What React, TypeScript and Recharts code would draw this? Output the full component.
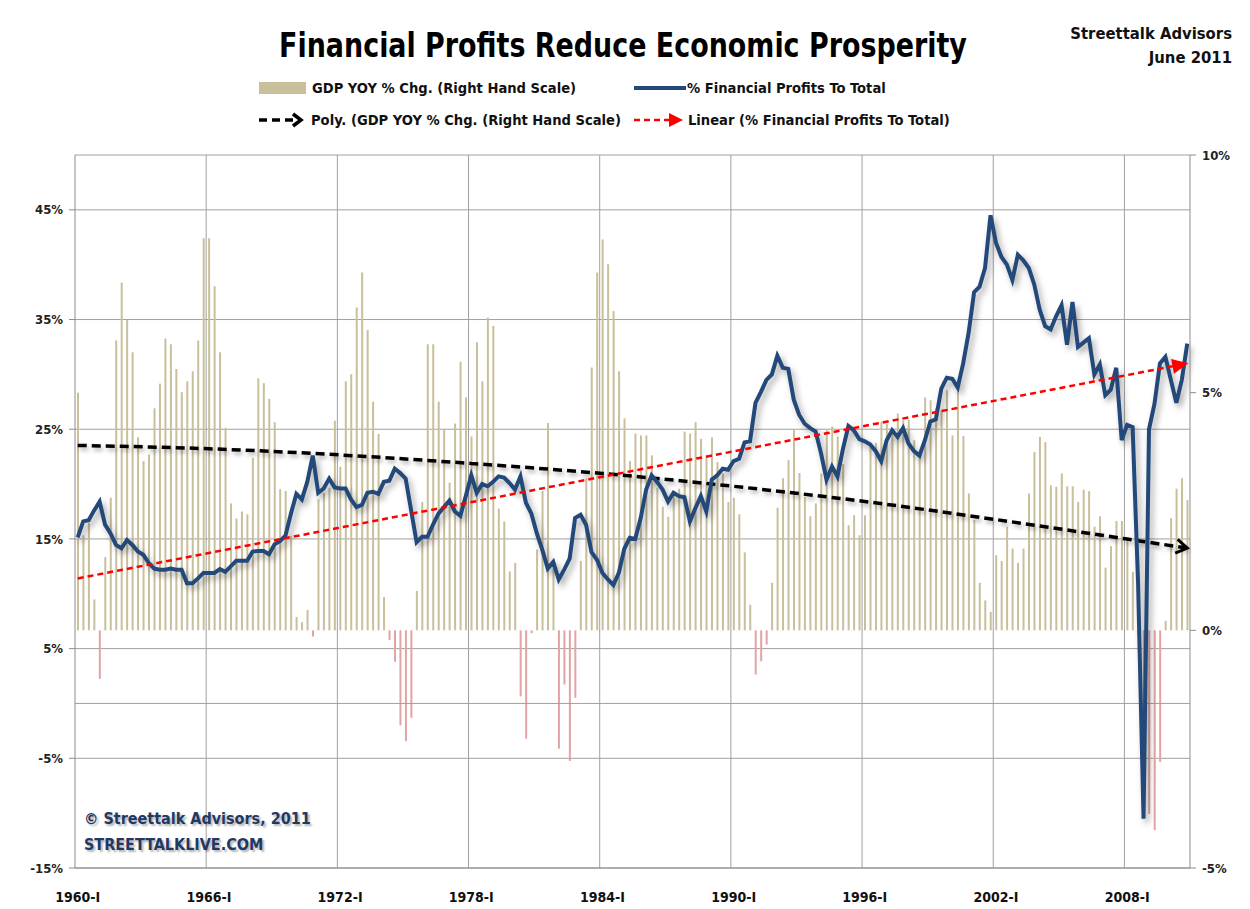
import React from 'react';
import { ComposedChart, Bar, Line, XAxis, YAxis, CartesianGrid, ReferenceLine, Cell } from 'recharts';

// ---------- data ----------
const FIRST_YEAR = 1960;
const QUARTER_NAMES = ['I', 'II', 'III', 'IV'];

// Real GDP year-over-year % change (right hand scale), quarterly 1960-I .. 2010-IV
const gdpYoy = [
  5.0, 2.0, 2.26, 0.65, -1.02, 1.54, 2.79, 6.1, 7.32, 6.53, 5.85, 4.06, 3.56, 3.7, 4.67, 5.19,
  6.14, 6.02, 5.5, 5.01, 5.24, 5.45, 6.1, 8.25, 8.25, 7.24, 5.85, 4.26, 2.67, 2.35, 2.5, 2.44,
  3.63, 5.3, 5.2, 4.87, 4.38, 2.97, 2.93, 1.99, 0.28, 0.17, 0.43, -0.13, 2.76, 2.89, 2.99, 4.41,
  3.44, 5.24, 5.39, 6.79, 7.53, 6.32, 4.81, 4.13, 0.7, -0.2, -0.66, -2.0, -2.33, -1.84, 0.83, 2.7,
  6.02, 6.02, 4.81, 4.22, 3.11, 4.35, 5.65, 4.9, 4.08, 6.06, 5.24, 6.58, 6.4, 2.56, 2.29, 1.24,
  1.42, -1.39, -2.28, -0.06, 1.7, 2.93, 4.36, 1.3, -2.49, -1.14, -2.75, -1.42, 1.46, 3.2, 5.53, 7.53,
  8.22, 7.7, 6.72, 5.45, 4.46, 3.56, 4.14, 4.1, 4.1, 3.68, 3.0, 2.6, 2.39, 2.88, 2.98, 4.18,
  4.14, 4.38, 4.03, 3.68, 4.06, 3.54, 3.3, 2.7, 2.79, 2.44, 1.64, 0.54, -0.93, -0.65, -0.3, 1.0,
  2.58, 3.2, 3.58, 4.22, 3.31, 2.81, 2.4, 2.67, 3.3, 4.21, 4.29, 4.08, 3.5, 2.21, 2.42, 2.0,
  2.42, 3.95, 3.94, 4.39, 4.35, 4.25, 4.56, 4.42, 4.43, 4.0, 3.72, 4.9, 4.84, 4.67, 4.63, 5.05,
  4.1, 5.05, 4.09, 2.88, 2.32, 1.0, 0.63, 0.39, 1.58, 1.46, 2.18, 1.72, 1.42, 1.72, 2.88, 3.75,
  4.07, 3.96, 3.05, 3.02, 3.3, 3.03, 3.03, 2.7, 2.96, 2.93, 2.18, 2.4, 1.32, 1.77, 2.3, 2.3,
  1.9, 1.23, -0.1, -2.7, -3.86, -4.2, -2.77, 0.2, 2.36, 2.98, 3.2, 2.74,
];

// % financial profits to total (left hand scale), quarterly 1960-I .. 2010-IV
const finProfitShare = [
  15.15, 16.6, 16.7, 17.6, 18.4, 16.3, 15.5, 14.45, 14.15, 14.9, 14.45, 13.85, 13.55, 12.8, 12.3, 12.2,
  12.2, 12.3, 12.2, 12.2, 10.95, 10.95, 11.4, 11.9, 11.9, 11.9, 12.25, 12.0, 12.5, 13.0, 13.0, 13.0,
  13.85, 13.9, 13.9, 13.6, 14.5, 14.8, 15.3, 17.3, 19.1, 18.6, 20.2, 22.6, 19.2, 19.6, 20.5, 19.7,
  19.6, 19.6, 18.6, 17.9, 18.1, 19.2, 19.3, 19.1, 20.2, 20.3, 21.4, 21.0, 20.5, 17.6, 14.7, 15.2,
  15.2, 16.3, 17.3, 17.9, 18.5, 17.5, 17.1, 18.9, 20.8, 19.2, 20.0, 19.8, 20.2, 20.7, 20.6, 20.1,
  19.5, 20.7, 18.3, 17.3, 15.5, 14.0, 12.3, 12.9, 11.3, 12.2, 13.2, 16.9, 17.2, 16.3, 13.8, 13.1,
  11.9, 11.3, 10.8, 11.9, 14.1, 15.1, 15.0, 16.9, 19.5, 20.8, 20.2, 19.5, 18.4, 19.2, 18.9, 18.8,
  16.6, 17.8, 18.9, 17.5, 20.4, 20.8, 21.4, 21.3, 22.1, 22.3, 23.8, 23.9, 27.4, 28.4, 29.5, 30.0,
  31.7, 30.6, 30.5, 27.7, 26.3, 25.5, 25.1, 24.8, 22.8, 20.4, 21.6, 20.7, 23.2, 25.3, 24.9, 24.1,
  23.9, 23.6, 23.0, 22.1, 24.0, 24.9, 24.3, 25.1, 23.7, 23.0, 22.6, 24.0, 25.7, 25.9, 28.7, 29.7,
  29.6, 28.8, 31.0, 33.8, 37.5, 38.0, 39.7, 44.5, 42.0, 40.7, 40.0, 38.6, 40.9, 40.4, 39.7, 38.2,
  35.9, 34.4, 34.1, 35.3, 36.3, 32.7, 36.6, 32.5, 32.9, 33.3, 30.0, 30.9, 28.1, 28.6, 30.6, 24.0,
  25.4, 25.2, 11.0, -10.5, 25.0, 27.3, 31.0, 31.6, 29.5, 27.4, 29.5, 32.8,
];

// Trend lines (sparse points, joined by the library)
const polyTrendPoints: [string, number][] = [
  ['1960-I', 3.89], ['1966-I', 3.82], ['1972-I', 3.69], ['1978-I', 3.51], ['1984-I', 3.3],
  ['1990-I', 3.03], ['1996-I', 2.71], ['2002-I', 2.33], ['2008-I', 1.92], ['2010-IV', 1.73],
];
const linearTrendPoints: [string, number][] = [['1960-I', 11.4], ['2010-IV', 31.0]];

const xTickLabels = ['1960-I', '1966-I', '1972-I', '1978-I', '1984-I', '1990-I', '1996-I', '2002-I', '2008-I'];
const leftTicks = [-15, -5, 5, 15, 25, 35, 45];
const rightTicks = [-5, 0, 5, 10];

// ---------- table built from the arrays ----------
const categories = gdpYoy.map((_, i) => `${FIRST_YEAR + Math.floor(i / 4)}-${QUARTER_NAMES[i % 4]}`);
const polyMap = new Map(polyTrendPoints);
const linMap = new Map(linearTrendPoints);
const data = categories.map((q, i) => ({
  q,
  gdp: gdpYoy[i],
  fin: finProfitShare[i],
  poly: polyMap.has(q) ? polyMap.get(q) : null,
  linear: linMap.has(q) ? linMap.get(q) : null,
}));
const LAST = data.length - 1;

// ---------- styles ----------
const FONT = '"Liberation Sans Narrow", "Arial Narrow", "DejaVu Sans Condensed", "Liberation Sans", sans-serif';
const TAN = '#C9BF9B';
const PINK = '#E3A3A3';
const BLUE = '#23497A';
const GRID = '#A0A0A0';

const RedArrow = (props: any) => {
  const { cx, cy, index } = props;
  if (index !== LAST || cx == null || cy == null) return <g key={`ra-${index}`} />;
  return (
    <g key={`ra-${index}`} transform={`translate(${cx},${cy}) rotate(-11)`}>
      <polygon points="1,0 -15,-7.5 -15,7.5" fill="#FF0000" />
    </g>
  );
};

const BlackArrow = (props: any) => {
  const { cx, cy, index } = props;
  if (index !== LAST || cx == null || cy == null) return <g key={`ba-${index}`} />;
  return (
    <g key={`ba-${index}`} transform={`translate(${cx},${cy}) rotate(10)`}>
      <polyline points="-11,-7 0,0 -11,7" fill="none" stroke="#000" strokeWidth={3} />
    </g>
  );
};

// vertical grid lines on the category boundaries of the labelled quarters (band scale)
const verticalGen = (props: any) => {
  const off = props && props.offset;
  if (!off) return [];
  const band = off.width / categories.length;
  return xTickLabels.map((t) => off.left + categories.indexOf(t) * band).filter((v) => v > off.left + 1);
};

const LegendSwatch = ({ kind }: { kind: string }) => {
  if (kind === 'bar') {
    return (
      <svg width={48} height={14} style={{ display: 'block' }}>
        <rect x={0} y={1} width={47} height={12} fill={TAN} />
      </svg>
    );
  }
  if (kind === 'line') {
    return (
      <svg width={52} height={14} style={{ display: 'block' }}>
        <line x1={0} y1={7} x2={52} y2={7} stroke={BLUE} strokeWidth={4} />
      </svg>
    );
  }
  if (kind === 'poly') {
    return (
      <svg width={46} height={18} style={{ display: 'block' }}>
        <line x1={0} y1={9} x2={38} y2={9} stroke="#000" strokeWidth={3.5} strokeDasharray="8 5" />
        <polyline points="34,3 42,9 34,15" fill="none" stroke="#000" strokeWidth={3.5} />
      </svg>
    );
  }
  return (
    <svg width={50} height={18} style={{ display: 'block' }}>
      <line x1={0} y1={9} x2={36} y2={9} stroke="#FF0000" strokeWidth={2.5} strokeDasharray="6 4" />
      <polygon points="35,2 49,9 35,16" fill="#FF0000" />
    </svg>
  );
};

const legendText: React.CSSProperties = {
  fontFamily: FONT,
  fontWeight: 700,
  fontSize: 14.6,
  color: '#111',
  whiteSpace: 'nowrap',
  lineHeight: '18px',
};

const LegendItem = ({ left, top, kind, label, gap }: any) => (
  <div style={{ position: 'absolute', left, top, display: 'flex', alignItems: 'center' }}>
    <LegendSwatch kind={kind} />
    <span style={{ ...legendText, marginLeft: gap }}>{label}</span>
  </div>
);

export default function App() {
  return (
    <div
      style={{
        position: 'absolute',
        left: 0,
        top: 0,
        width: 1250,
        height: 909,
        overflow: 'hidden',
        background: '#fff',
      }}
    >
      <style>{`.finLine path { filter: drop-shadow(3px 4px 3px rgba(0,0,0,0.35)); }
.polyLine path { filter: drop-shadow(2px 3px 2px rgba(0,0,0,0.3)); }`}</style>

      <ComposedChart
        width={1250}
        height={909}
        data={data}
        margin={{ top: 155, right: 0, bottom: 0, left: 0 }}
        barCategoryGap="36%"
      >
        <CartesianGrid
          yAxisId="left"
          stroke={GRID}
          strokeWidth={1}
          verticalCoordinatesGenerator={verticalGen}
        />
        <XAxis
          dataKey="q"
          ticks={xTickLabels}
          interval={0}
          height={41}
          axisLine={{ stroke: '#8C8C8C' }}
          tickLine={false}
          tickMargin={18}
          tick={{ fontSize: 14, fontFamily: FONT, fontWeight: 700, fill: '#111' }}
        />
        <YAxis
          yAxisId="left"
          domain={[-15, 50]}
          ticks={leftTicks}
          allowDataOverflow
          width={75}
          tickFormatter={(v: number) => `${v}%`}
          axisLine={{ stroke: '#8C8C8C' }}
          tickLine={{ stroke: '#8C8C8C' }}
          tickSize={6}
          tickMargin={6}
          tick={{ fontSize: 13, fontFamily: FONT, fontWeight: 700, fill: '#222' }}
        />
        <YAxis
          yAxisId="right"
          orientation="right"
          domain={[-5, 10]}
          ticks={rightTicks}
          allowDataOverflow
          width={60}
          tickFormatter={(v: number) => `${v}%`}
          axisLine={{ stroke: '#8C8C8C' }}
          tickLine={{ stroke: '#8C8C8C' }}
          tickSize={6}
          tickMargin={6}
          tick={{ fontSize: 13, fontFamily: FONT, fontWeight: 700, fill: '#222' }}
        />
        <ReferenceLine yAxisId="left" y={0} stroke={GRID} strokeWidth={1} />
        <Bar yAxisId="right" dataKey="gdp" isAnimationActive={false}>
          {data.map((d, i) => (
            <Cell key={`c-${i}`} fill={d.gdp >= 0 ? TAN : PINK} />
          ))}
        </Bar>
        <Line
          className="polyLine"
          yAxisId="right"
          dataKey="poly"
          type="monotone"
          connectNulls
          stroke="#000"
          strokeWidth={3.5}
          strokeDasharray="9 5"
          dot={BlackArrow}
          activeDot={false}
          isAnimationActive={false}
        />
        <Line
          className="finLine"
          yAxisId="left"
          dataKey="fin"
          type="linear"
          stroke={BLUE}
          strokeWidth={4}
          dot={false}
          activeDot={false}
          isAnimationActive={false}
        />
        <Line
          yAxisId="left"
          dataKey="linear"
          type="linear"
          connectNulls
          stroke="#FF0000"
          strokeWidth={2.5}
          strokeDasharray="6 4"
          dot={RedArrow}
          activeDot={false}
          isAnimationActive={false}
        />
      </ComposedChart>

      {/* Title */}
      <div
        style={{
          position: 'absolute',
          left: 623,
          top: 25,
          transform: 'translateX(-50%) scaleX(0.88)',
          fontFamily: FONT,
          fontWeight: 700,
          fontSize: 34,
          lineHeight: '40px',
          color: '#000',
          whiteSpace: 'nowrap',
        }}
      >
        Financial Profits Reduce Economic Prosperity
      </div>
      <div
        style={{
          position: 'absolute',
          right: 18,
          top: 22,
          textAlign: 'right',
          fontFamily: FONT,
          fontWeight: 700,
          fontSize: 16.5,
          lineHeight: '24px',
          color: '#111',
        }}
      >
        <div>Streettalk Advisors</div>
        <div>June 2011</div>
      </div>

      {/* Legend */}
      <LegendItem left={259} top={79} kind="bar" label="GDP YOY % Chg. (Right Hand Scale)" gap={5} />
      <LegendItem left={634} top={79} kind="line" label="% Financial Profits To Total" gap={1} />
      <LegendItem left={259} top={111} kind="poly" label="Poly. (GDP YOY % Chg. (Right Hand Scale)" gap={6} />
      <LegendItem left={634} top={111} kind="red" label="Linear (% Financial Profits To Total)" gap={4} />

      {/* Copyright */}
      <div
        style={{
          position: 'absolute',
          left: 84,
          top: 806,
          fontFamily: FONT,
          fontWeight: 700,
          color: '#1F3864',
          textShadow: '2px 2px 2px rgba(0,0,0,0.3)',
          lineHeight: '26px',
        }}
      >
        <div style={{ fontSize: 16 }}>© Streettalk Advisors, 2011</div>
        <div style={{ fontSize: 16 }}>STREETTALKLIVE.COM</div>
      </div>
    </div>
  );
}
